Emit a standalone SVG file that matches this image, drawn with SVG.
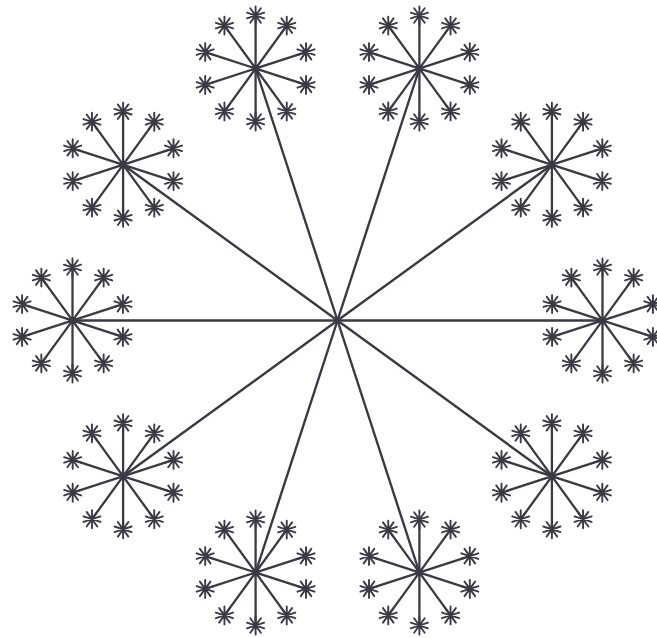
<svg xmlns="http://www.w3.org/2000/svg" xmlns:xlink="http://www.w3.org/1999/xlink" width="657" height="638" viewBox="0 0 657 638">
<style>
.main{stroke:#3a3a44;stroke-width:2.4;fill:none;stroke-linecap:round}
.sub{stroke:#3a3a44;stroke-width:2.3;fill:none;stroke-linecap:round}
.star{stroke:#3a3a44;stroke-width:1.9;fill:none;stroke-linecap:round}
</style>
<defs>
<path id="star" class="star" d="M8.56,2.78L-8.56,-2.78M5.29,7.28L-5.29,-7.28M0,9L0,-9M-5.29,7.28L5.29,-7.28M-8.56,2.78L8.56,-2.78"/>
<g id="node">
<path class="sub" d="M50.41,16.38L-50.41,-16.38M31.15,42.88L-31.15,-42.88M0,53L0,-53M-31.15,42.88L31.15,-42.88M-50.41,16.38L50.41,-16.38"/>
<use href="#star" x="50.41" y="16.38"/>
<use href="#star" x="31.15" y="42.88"/>
<use href="#star" x="0" y="53"/>
<use href="#star" x="-31.15" y="42.88"/>
<use href="#star" x="-50.41" y="16.38"/>
<use href="#star" x="-50.41" y="-16.38"/>
<use href="#star" x="-31.15" y="-42.88"/>
<use href="#star" x="0" y="-53"/>
<use href="#star" x="31.15" y="-42.88"/>
<use href="#star" x="50.41" y="-16.38"/>
</g>
</defs>
<rect width="657" height="638" fill="#ffffff"/>
<g id="connectors" class="main">
<line x1="337.5" y1="320.5" x2="602.5" y2="320.5"/>
<line x1="337.5" y1="320.5" x2="551.9" y2="164.7"/>
<line x1="337.5" y1="320.5" x2="419.4" y2="68.5"/>
<line x1="337.5" y1="320.5" x2="255.6" y2="68.5"/>
<line x1="337.5" y1="320.5" x2="123.1" y2="164.7"/>
<line x1="337.5" y1="320.5" x2="72.5" y2="320.5"/>
<line x1="337.5" y1="320.5" x2="123.1" y2="476.3"/>
<line x1="337.5" y1="320.5" x2="255.6" y2="572.5"/>
<line x1="337.5" y1="320.5" x2="419.4" y2="572.5"/>
<line x1="337.5" y1="320.5" x2="551.9" y2="476.3"/>
</g>
<g id="node0"><use href="#node" x="602.5" y="320.5"/></g>
<g id="node1"><use href="#node" x="551.9" y="164.7"/></g>
<g id="node2"><use href="#node" x="419.4" y="68.5"/></g>
<g id="node3"><use href="#node" x="255.6" y="68.5"/></g>
<g id="node4"><use href="#node" x="123.1" y="164.7"/></g>
<g id="node5"><use href="#node" x="72.5" y="320.5"/></g>
<g id="node6"><use href="#node" x="123.1" y="476.3"/></g>
<g id="node7"><use href="#node" x="255.6" y="572.5"/></g>
<g id="node8"><use href="#node" x="419.4" y="572.5"/></g>
<g id="node9"><use href="#node" x="551.9" y="476.3"/></g>
</svg>
